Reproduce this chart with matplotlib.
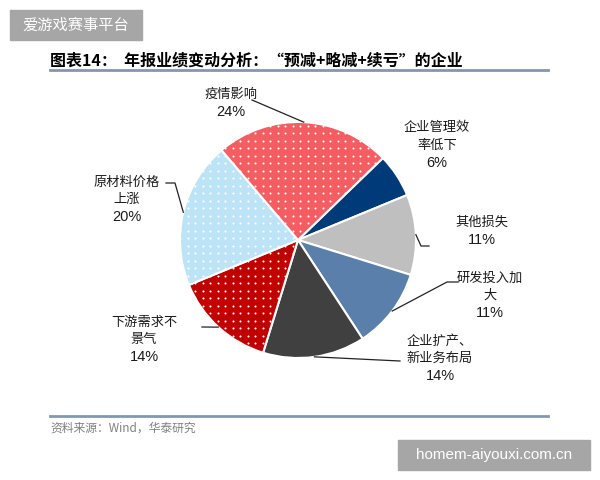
import numpy as np
import matplotlib.pyplot as plt
from matplotlib.patches import Rectangle

plt.rcParams['font.family'] = ['Noto Sans CJK SC', 'DejaVu Sans']

# data, clockwise from the navy slice
labels = ['企业管理效\n率低下', '其他损失', '研发投入加\n大', '企业扩产、\n新业务布局',
          '下游需求不\n景气', '原材料价格\n上涨', '疫情影响']
shares = [6, 11, 11, 14, 14, 20, 24]
colors = ['#003a78', '#bfbfbf', '#5b7fab', '#404040', '#c00000', '#bde4f6', '#f45e62']
dotted = [False, False, False, False, True, True, True]

title = '图表14：  年报业绩变动分析：“预减+略减+续亏”的企业'
source = '资料来源：Wind，华泰研究'

W, H = 600, 480
fig = plt.figure(figsize=(6, 4.8), dpi=100)
ax = fig.add_axes([0, 0, 1, 1])

cx, cy, R = 298, H - 240, 118
wedges, _ = ax.pie(shares, colors=colors, startangle=44, counterclock=False,
                   center=(cx, cy), radius=R,
                   wedgeprops=dict(edgecolor='white', linewidth=1.5))

# white dot texture on the dotted slices
gx, gy = np.meshgrid(np.arange(cx - R, cx + R, 7.5), np.arange(cy - R, cy + R, 7.5))
for w, d in zip(wedges, dotted):
    if d:
        sc = ax.scatter(gx.ravel(), gy.ravel(), s=2.2, color='white', lw=0, zorder=3)
        sc.set_clip_path(w)

ax.set_xlim(0, W)
ax.set_ylim(0, H)
ax.set_aspect('equal')
ax.axis('off')

# label centre x, y of percent line, and leader paths (pixel coords from top)
text_x = [437, 482, 490, 440, 144, 127, 231]
pct_y = [163, 240, 313, 376, 357, 217, 112]
leaders = [None,
           [(421, 246), (429, 246)],
           [(447, 282), (458, 282)],
           [(400, 361)],
           [(202, 327)],
           [(175, 183), (166, 183)],
           [(252, 100)]]
step = 17.5

for w, lab, s, tx, py, ld in zip(wedges, labels, shares, text_x, pct_y, leaders):
    lines = lab.split('\n')
    for i, ln in enumerate(lines):
        ly = py - step * (len(lines) - i)
        ax.text(tx, H - ly, ln, ha='center', va='center', fontsize=9.5, color='#1a1a1a')
    ax.text(tx, H - py, f'{s}%', ha='center', va='center', fontsize=10.5,
            color='#1a1a1a', family='Liberation Sans')
    if ld:
        ang = np.deg2rad((w.theta1 + w.theta2) / 2)
        x0, y0 = cx + R * np.cos(ang), cy + R * np.sin(ang)
        xs = [x0] + [p[0] for p in ld]
        ys = [y0] + [H - p[1] for p in ld]
        ax.plot(xs, ys, color='#222222', lw=0.9)

# title + rules
ax.text(50, H - 61, title, fontsize=11.5, fontweight='bold', va='center', ha='left')
ax.plot([50, 548], [H - 70, H - 70], color='#8497b0', lw=2)
ax.plot([50, 548], [H - 416, H - 416], color='#8497b0', lw=2)
ax.text(50, H - 428, source, fontsize=8.5, color='#808080', va='center', ha='left')

# watermarks
ax.add_patch(Rectangle((10, H - 40), 132, 30, color='#a6a6a6', zorder=5))
ax.text(76, H - 25, '爱游戏赛事平台', color='white', fontsize=11, ha='center', va='center', zorder=6)
ax.add_patch(Rectangle((398, H - 470), 192, 30, color='#a6a6a6', zorder=5))
ax.text(494, H - 455, 'homem-aiyouxi.com.cn', color='white', fontsize=11,
        ha='center', va='center', zorder=6, family='Liberation Sans')

fig.savefig('out.png', dpi=100)
